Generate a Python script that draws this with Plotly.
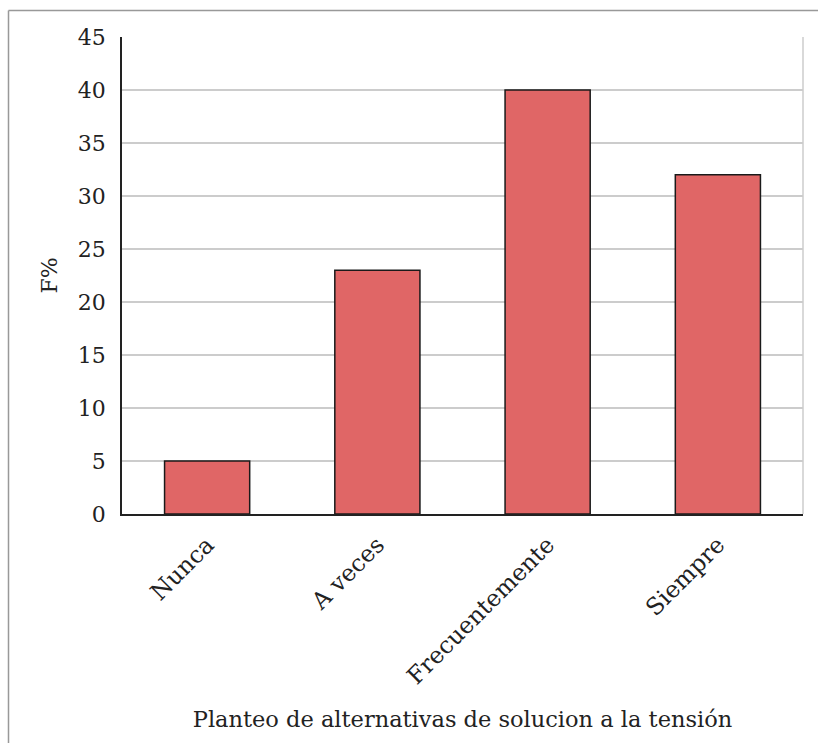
import plotly.graph_objects as go

categories = ["Nunca", "A veces", "Frecuentemente", "Siempre"]
values = [5, 23, 40, 32]
y_ticks = [0, 5, 10, 15, 20, 25, 30, 35, 40, 45]

FONT = "DejaVu Serif"
W, H = 818, 743
L, R, T, B = 122, 15, 37, 229

fig = go.Figure(go.Bar(
    x=categories, y=values, width=0.5,
    marker=dict(color="#E06666", line=dict(color="#1a1a1a", width=1.5)),
))

pw = W - L - R
ph = H - T - B

fig.update_layout(
    width=W, height=H,
    margin=dict(l=L, r=R, t=T, b=B, pad=0),
    paper_bgcolor="white", plot_bgcolor="white",
    font=dict(family=FONT, size=20, color="#222"),
    showlegend=False,
    bargap=0.5,
    xaxis=dict(
        showline=True, linecolor="#222", linewidth=1.5,
        tickangle=-45, ticks="", showgrid=False,
        tickfont=dict(size=23.5), ticklabelstandoff=6,
        title=dict(text="Planteo de alternativas de solucion a la tensión", font=dict(size=22.5), standoff=22),
    ),
    yaxis=dict(
        range=[0, 45], tickvals=y_ticks, showline=True, linecolor="#222", linewidth=1.5,
        showgrid=True, gridcolor="#cccccc", gridwidth=1.5, zeroline=False,
        ticks="", tickfont=dict(size=22), ticklabelstandoff=10,
        title=dict(text="F%", font=dict(size=22), standoff=14),
    ),
    shapes=[
        dict(type="line", xref="paper", yref="paper", x0=1, x1=1, y0=0, y1=1,
             line=dict(color="#cccccc", width=1.5)),
        dict(type="line", xref="paper", yref="paper", x0=(8.5 - L) / pw, x1=(830 - L) / pw,
             y0=(H - B - 10.5) / ph, y1=(H - B - 10.5) / ph, line=dict(color="#999999", width=1.5)),
        dict(type="line", xref="paper", yref="paper", x0=(8.5 - L) / pw, x1=(8.5 - L) / pw,
             y0=(H - B - 10.5) / ph, y1=(H - B - 760) / ph, line=dict(color="#999999", width=1.5)),
    ],
)

fig.write_html("out.html", config={"displayModeBar": False},
               post_script="document.body.style.margin='0';")
